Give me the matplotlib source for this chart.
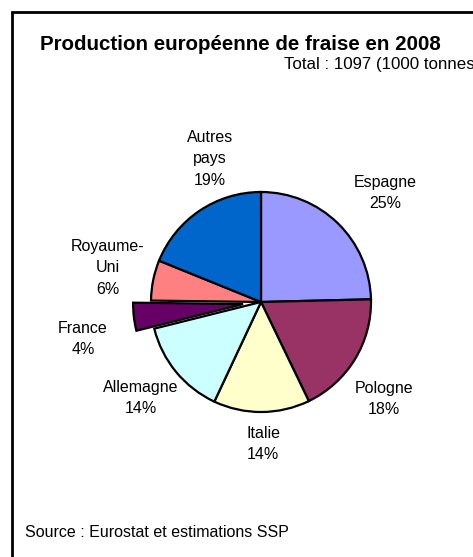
import matplotlib.pyplot as plt
from matplotlib.patches import Rectangle

# production in 1000 tonnes (total 1097)
countries = ['Espagne', 'Pologne', 'Italie', 'Allemagne', 'France', 'Royaume-\nUni', 'Autres\npays']
values = [270, 200, 155, 155, 45, 65, 207]
pct_labels = ['25%', '18%', '14%', '14%', '4%', '6%', '19%']
colors = ['#9999FF', '#993366', '#FFFFCC', '#CCFFFF', '#660066', '#FF8080', '#0066CC']
explode = [0, 0, 0, 0, 18, 0, 0]

W, H = 473, 557
plt.rcParams['font.family'] = ['Liberation Sans', 'DejaVu Sans']
fig = plt.figure(figsize=(W / 100, H / 100), dpi=100)
ax = fig.add_axes([0, 0, 1, 1])
ax.set_aspect('equal')

# frame (cut off on the right and bottom)
ax.add_patch(Rectangle((12, -20), 600, H - 12 + 20, fill=False, edgecolor='black', linewidth=2))

cx, cy, r = 261, H - 302, 110
ax.pie(values, colors=colors, explode=explode, startangle=90, counterclock=False,
       center=(cx, cy), radius=r, frame=True,
       wedgeprops=dict(edgecolor='black', linewidth=1.6))
ax.set_xlim(0, W)
ax.set_ylim(0, H)
ax.axis('off')

label_pos = [(385, 193), (384, 399), (263, 444), (141, 398), (83, 339), (108, 268), (210, 159)]
for name, pct, (x, y) in zip(countries, pct_labels, label_pos):
    ax.text(x, H - y, name + '\n' + pct, ha='center', va='center', fontsize=11.5, linespacing=1.55)

ax.text(40, H - 50, 'Production européenne de fraise en 2008', fontsize=14.8,
        fontweight='bold', ha='left', va='baseline')
# the closing bracket falls outside the picture, as in the original
ax.text(284, H - 69, 'Total : 1097 (1000 tonnes)', fontsize=12.2, ha='left', va='baseline')
ax.text(25, H - 537, 'Source : Eurostat et estimations SSP', fontsize=11.5, ha='left', va='baseline')

fig.savefig('out.png', dpi=100)
